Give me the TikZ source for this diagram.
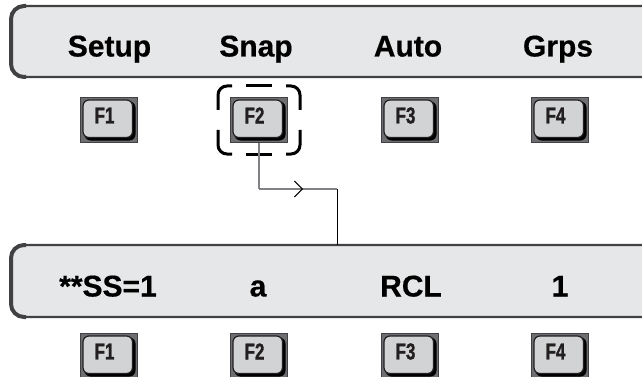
\documentclass[tikz,border=0pt]{standalone}
\usepackage{fontspec}
\setmainfont{Liberation Sans}
\newfontfamily\heavyfont[FakeBold=0.5]{Liberation Sans Bold}
\newfontfamily\keyheavy[FakeBold=1.2, FakeStretch=0.74]{Liberation Sans Bold}
\usetikzlibrary{arrows.meta,decorations.markings}
\definecolor{panelfill}{HTML}{E6E7E8}
\definecolor{paneledge}{HTML}{414143}
\definecolor{keyouter}{HTML}{6D6E71}
\definecolor{keyinner}{HTML}{D1D3D4}
\definecolor{keyedge}{HTML}{231F20}
\definecolor{wiregray}{HTML}{808285}
\newcommand{\keytext}[1]{{\keyheavy\fontsize{23}{23}\selectfont #1}}
\tikzset{
  keylbl/.style={inner sep=0pt, text=keyedge, xshift=-4.5pt, yshift=4.5pt},
  fkey/.style={rectangle, minimum width=57pt, minimum height=45pt, inner sep=0pt,
    fill=keyouter, draw=paneledge, line width=0.6pt,
    label={[keylbl]center:\keytext{#1}},
    path picture={
      \fill[black, rounded corners=6pt]
        ([shift={(4,4)}]path picture bounding box.north west) rectangle
        ([shift={(-2,-2)}]path picture bounding box.south east);
      \filldraw[fill=keyinner, draw=keyedge, line width=1.2pt, rounded corners=6pt]
        ([shift={(2.5,2.5)}]path picture bounding box.north west) rectangle
        ([shift={(-5,-5)}]path picture bounding box.south east);
    }},
  lbl/.style={anchor=base, inner sep=0pt, font=\heavyfont\fontsize{30}{30}\selectfont, text=black},
  panelbg/.style={fill=panelfill, rounded corners=13pt},
  paneltrim/.style={draw=paneledge, line width=2.2pt, rounded corners=13pt},
  panelside/.style={draw=paneledge, line width=4pt, rounded corners=13pt},
  focus/.style={draw=black, line width=3pt, rounded corners=9pt},
  wire/.style={draw=wiregray, line width=1.2pt},
  wireb/.style={draw=black, line width=1pt},
}
\begin{document}
\begin{tikzpicture}[x=1pt,y=-1pt]
\useasboundingbox (0,0) rectangle (642,377);
\clip (0,0) rectangle (642,377);
\fill[white] (0,0) rectangle (642,377);

% top panel
\fill[panelbg] (11,6) rectangle (670,77);
\draw[paneltrim] (670,6) -- (11,6) -- (11,77) -- (670,77);
\draw[panelside] (26,6) -- (11,6) -- (11,77) -- (26,77);

% lower panel
\fill[panelbg] (11,245) rectangle (670,317);
\draw[paneltrim] (670,245) -- (11,245) -- (11,317) -- (670,317);
\draw[panelside] (26,245) -- (11,245) -- (11,317) -- (26,317);

% top labels
\node[lbl] (t1) at (109.5,56.5) {Setup};
\node[lbl] (t2) at (256,56.5) {Snap};
\node[lbl] (t3) at (408,56.5) {Auto};
\node[lbl] (t4) at (558,56.5) {Grps};

% lower labels
\node[lbl] (b1) at (108,296.5) {**SS=1};
\node[lbl] (b2) at (258,296.5) {a};
\node[lbl] (b3) at (411,296.5) {RCL};
\node[lbl] (b4) at (560,296.5) {1};

% top keys
\node[fkey=F1] (k1) at (109,120) {};
\node[fkey=F2] (k2) at (259,120) {};
\node[fkey=F3] (k3) at (410,120) {};
\node[fkey=F4] (k4) at (560,120) {};

% lower keys
\node[fkey=F1] (m1) at (109,356) {};
\node[fkey=F2] (m2) at (259,356) {};
\node[fkey=F3] (m3) at (410,356) {};
\node[fkey=F4] (m4) at (560,356) {};

% focus marks around F2
\draw[focus] (218,110) -- (218,86) -- (232,86);
\draw[focus] (246,86) -- (272,86);
\draw[focus] (286,86) -- (300,86) -- (300,110);
\draw[focus] (300,130) -- (300,154) -- (286,154);
\draw[focus] (272,154) -- (246,154);
\draw[focus] (232,154) -- (218,154) -- (218,130);

% connector
\coordinate (j1) at (k2.south |- 0,189);
\coordinate (j2) at (337,189);
\coordinate (lp) at (337,245);
\draw[wire] (k2.south) -- (j1);
\draw[wire, postaction={decorate, decoration={markings,
   mark=at position 0.565 with {\arrow[black]{Straight Barb[length=8pt,width=16pt,line width=1pt]}}}}]
   (j1) -- (j2);
\draw[wireb] (j2) -- (lp);
\end{tikzpicture}
\end{document}
